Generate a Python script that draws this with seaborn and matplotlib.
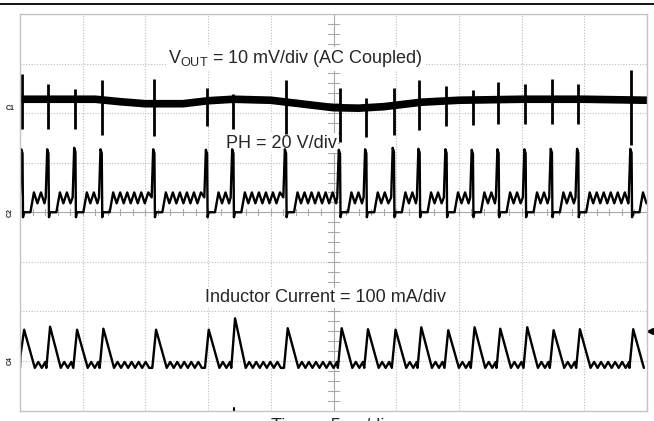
"""
Осциллограмма: VOUT (AC), PH и ток дросселя, режим PFM/DCM.
"""
import numpy as np
import pandas as pd
import matplotlib
matplotlib.use('Agg')
import matplotlib.pyplot as plt
import seaborn as sns
from matplotlib.lines import Line2D

sns.set_style('white')
plt.rcParams['font.family'] = ['Liberation Sans', 'DejaVu Sans']
plt.rcParams['mathtext.fontset'] = 'custom'
plt.rcParams['mathtext.rm'] = 'Liberation Sans'
plt.rcParams['mathtext.it'] = 'Liberation Sans:italic'

# ---- данные, снятые с экрана (5 мкс/дел, 10 x 8 делений) ----
# моменты включения ключа (фронты PH), мкс от левого края экрана
sw_t = [0.08, 2.15, 4.3, 6.4, 10.6, 14.8, 16.9, 21.1, 25.4, 27.5,
        29.7, 31.75, 33.9, 36.0, 38.05, 40.2, 42.3, 44.4, 48.65]
# амплитуда импульсов PH, дел
ph_peak = [1.27, 1.27, 1.30, 1.27, 1.27, 1.26, 1.27, 1.27, 1.26, 1.27,
           1.30, 1.28, 1.27, 1.26, 1.27, 1.27, 1.28, 1.28, 1.28]
# пики тока дросселя, дел
il_peak = [0.63, 0.69, 0.63, 0.65, 0.63, 0.63, 0.86, 0.66, 0.66, 0.64,
           0.63, 0.68, 0.62, 0.68, 0.65, 0.68, 0.62, 0.64, 0.64]
# выбросы VOUT на фронтах, мВ (вверх / вниз)
vout_up = [5.0, 3.0, 2.0, 4.0, 5.0, 2.5, 1.0, 4.5, 4.0, 2.0,
           3.5, 4.5, 3.0, 2.0, 3.5, 3.0, 4.0, 3.0, 6.0]
vout_dn = [-6.0, -6.0, -6.0, -7.0, -6.5, -5.0, -6.0, -6.5, -7.0, -6.0,
           -6.0, -5.5, -5.0, -5.0, -5.0, -5.0, -5.0, -5.0, -9.0]
# медленный дрейф VOUT, мВ
vout_drift_t = [0, 3, 6, 8, 10, 13, 15, 17, 20, 23, 25, 27, 29, 32, 35, 40, 45, 50]
vout_drift_mv = [1.8, 1.8, 1.8, 1.3, 0.9, 0.9, 1.5, 1.8, 1.6, 0.7,
                 0.1, 0.0, 0.3, 1.2, 1.6, 1.8, 1.8, 1.6]

# уровни "звона" после обнуления тока, дел
ph_ring_hi, ph_ring_lo = 0.40, 0.18
il_ring_hi, il_ring_lo = -0.02, -0.14
ring_half_us = 0.28

# опорные уровни каналов, дел от низа экрана
VOUT_REF, PH_REF, IL_REF = 6.1, 4.0, 1.0
MV_PER_DIV = 10.0


def ph_trace():
    t, v = [0.0], [0.35]
    for k, tk in enumerate(sw_t):
        h = ph_peak[k]
        if k > 0:
            t.append(tk - 0.1); v.append(0.3)
        t += [tk + 0.02, tk + 0.12, tk + 0.16, tk + 0.24]
        v += [h, h - 0.08, -0.1, 0.0]
        t_end = sw_t[k + 1] - 0.1 if k + 1 < len(sw_t) else 50.0
        tr = tk + 0.75
        t.append(tr); v.append(0.0)
        hi = True
        while tr + ring_half_us < t_end:
            tr += ring_half_us
            t.append(tr); v.append(ph_ring_hi if hi else ph_ring_lo)
            hi = not hi
    return np.array(t), np.array(v) + PH_REF


def il_trace():
    t, v = [0.0], [il_ring_lo]
    for k, tk in enumerate(sw_t):
        t += [max(tk - 0.05, 0.0), tk + 0.25, tk + 1.1]
        v += [il_ring_lo if k else 0.1, il_peak[k], il_ring_lo]
        t_end = sw_t[k + 1] - 0.05 if k + 1 < len(sw_t) else 50.0
        tr = tk + 1.1
        hi = True
        while tr + ring_half_us < t_end:
            tr += ring_half_us
            t.append(tr); v.append(il_ring_hi if hi else il_ring_lo)
            hi = not hi
    return np.array(t), np.array(v) + IL_REF


fig = plt.figure(figsize=(6.54, 4.21), dpi=100)
W, H = 654, 421
ax = fig.add_axes([20 / W, (H - 410.5) / H, 627 / W, 396.5 / H])

# сетка
grid_kw = dict(color='#bcbcbc', lw=0.8, ls=(0, (1, 1.5)), zorder=0)
for gx in range(5, 50, 5):
    if gx != 25:
        ax.axvline(gx, **grid_kw)
for gy in range(1, 8):
    if gy != 4:
        ax.axhline(gy, **grid_kw)
ax.axvline(25, color='#a8a8a8', lw=0.8, zorder=0)
ax.axhline(4, color='#a8a8a8', lw=0.8, zorder=0)
for m in np.arange(0.2, 8, 0.2):
    ax.plot([24.6, 25.4], [m, m], color='#a8a8a8', lw=0.8, zorder=0)
for m in np.arange(1, 50, 1):
    ax.plot([m, m], [3.94, 4.06], color='#a8a8a8', lw=0.8, zorder=0)

# VOUT: полоса шума + выбросы
df_v = pd.DataFrame({'t': vout_drift_t,
                     'y': VOUT_REF + np.array(vout_drift_mv) / MV_PER_DIV})
sns.lineplot(data=df_v, x='t', y='y', ax=ax, color='black', lw=5.5,
             estimator=None, sort=False, solid_capstyle='butt')
y_c = np.interp(np.array(sw_t) + 0.1, vout_drift_t,
                VOUT_REF + np.array(vout_drift_mv) / MV_PER_DIV)
ax.vlines(np.array(sw_t) + 0.1, y_c + np.array(vout_dn) / MV_PER_DIV,
          y_c + np.array(vout_up) / MV_PER_DIV, color='black', lw=2.0)

# PH и ток дросселя
t_ph, v_ph = ph_trace()
t_il, v_il = il_trace()
sns.lineplot(x=t_ph, y=v_ph, ax=ax, color='black', lw=1.7,
             estimator=None, sort=False)
sns.lineplot(x=t_il, y=v_il, ax=ax, color='black', lw=1.7,
             estimator=None, sort=False)

# подписи (белая подложка закрывает сетку, как на экране)
box = dict(facecolor='white', edgecolor='none', pad=1.0)
ax.text(22.0, 7.01, r'V$_{\mathrm{OUT}}$ = 10 mV/div (AC Coupled)',
        ha='center', va='baseline', fontsize=13, bbox=box, zorder=1)
ax.text(20.85, 5.30, 'PH = 20 V/div', ha='center', va='baseline',
        fontsize=13, bbox=box, zorder=1)
ax.text(24.4, 2.18, 'Inductor Current = 100 mA/div',
        ha='center', va='baseline', fontsize=13, bbox=box, zorder=1)
fig.text(332 / W, 1 - 418 / H, 'Time = 5 µs/div', ha='center', va='top',
         fontsize=13)

# маркеры каналов и триггера
for lab, yy, rot in [('C1', VOUT_REF, 0), ('C2', PH_REF, 90), ('C4', IL_REF, 90)]:
    ax.text(-0.75, yy, lab, ha='center', va='center', fontsize=5,
            fontweight='bold', rotation=rot, clip_on=False)
ax.plot([50.25], [1.6], marker='<', color='black', ms=5, clip_on=False)
ax.plot([17.07, 17.07], [0.0, 0.06], color='black', lw=1.5)

ax.set_xlim(0, 50)
ax.set_ylim(0, 8)
ax.set_xticks([])
ax.set_yticks([])
ax.set_xlabel('')
ax.set_ylabel('')
for sp in ax.spines.values():
    sp.set_color('#c4c4c4')
    sp.set_linewidth(1.0)

fig.add_artist(Line2D([0, 1], [1 - 4 / H, 1 - 4 / H], color='black', lw=1.3))

plt.savefig('out.png', dpi=100)
plt.close()
